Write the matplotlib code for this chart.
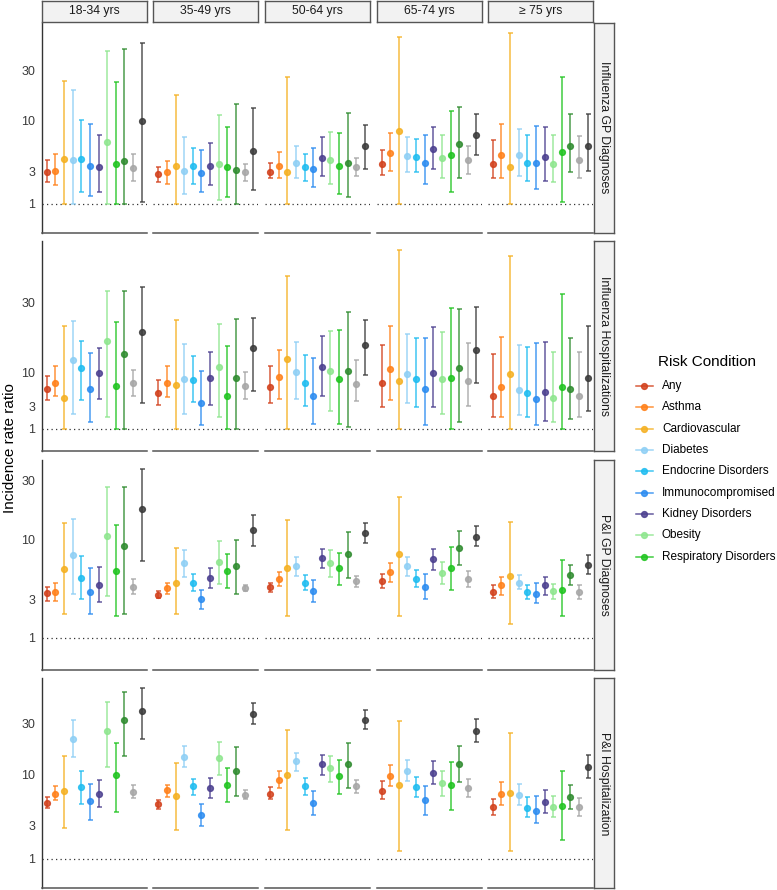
import numpy as np
import matplotlib
matplotlib.use("Agg")
import matplotlib.pyplot as plt
from matplotlib.lines import Line2D
from matplotlib.ticker import NullLocator

plt.rcParams['font.family'] = ['Liberation Sans', 'DejaVu Sans']

# ---- data -------------------------------------------------------------
age_groups = ["18-34 yrs", "35-49 yrs", "50-64 yrs", "65-74 yrs", "\u2265 75 yrs"]
outcomes = ["Influenza GP Diagnoses", "Influenza Hospitalizations",
            "P&I GP Diagnoses", "P&I Hospitalization"]
conditions = ["Any", "Asthma", "Cardiovascular", "Diabetes", "Endocrine Disorders",
              "Immunocompromised", "Kidney Disorders", "Obesity",
              "Respiratory Disorders", "Other A", "Other B", "Other C"]
legend_conditions = conditions[:9]
colors = ["#D2401C", "#FF8019", "#F5B021", "#8ECFF5", "#1EBCF0", "#2B8CF0",
          "#4B3F8F", "#8EE68E", "#1FC41F", "#2E8B2E", "#A6A6A6", "#3A3A3A"]

# influenza GP diagnoses (one list per age group, 12 conditions each)
flu_gp_est = [[2.95, 3.0, 4.1, 3.95, 4.05, 3.45, 3.35, 6.1, 3.55, 3.85, 3.25, 9.9],
              [2.75, 2.95, 3.4, 3.0, 3.4, 2.85, 3.45, 3.55, 3.3, 3.1, 2.95, 4.9],
              [2.95, 3.4, 2.95, 3.65, 3.3, 3.15, 4.15, 3.95, 3.4, 3.7, 3.3, 5.55],
              [3.6, 4.75, 7.9, 4.4, 4.3, 3.7, 5.2, 4.15, 4.5, 5.8, 3.95, 7.1],
              [3.6, 4.5, 3.35, 4.5, 3.7, 3.7, 4.3, 3.6, 4.8, 5.6, 3.95, 5.6]]
flu_gp_lo = [[2.23, 2.0, 1.0, 1.0, 1.6, 1.4, 1.6, 1.0, 1.0, 1.0, 2.3, 1.1],
             [2.23, 2.1, 1.0, 1.5, 2.1, 1.6, 2.0, 1.2, 1.35, 1.0, 2.3, 1.7],
             [2.45, 2.45, 1.0, 2.45, 2.3, 1.9, 2.6, 2.1, 1.5, 1.35, 2.6, 3.2],
             [2.7, 3.0, 1.0, 2.95, 2.95, 2.1, 3.2, 2.45, 1.6, 2.45, 2.8, 4.45],
             [2.5, 2.45, 1.0, 2.65, 2.3, 1.8, 2.3, 2.2, 1.1, 2.95, 2.5, 3.0]]
flu_gp_hi = [[3.95, 4.55, 24, 19.6, 9.95, 9.1, 7.2, 46, 23.2, 48.5, 4.55, 55],
             [3.35, 3.9, 17.5, 6.8, 5.3, 5.0, 5.9, 11.1, 8.5, 14.2, 3.6, 13.1],
             [3.7, 4.8, 26, 5.6, 4.6, 5.3, 6.8, 7.7, 7.4, 11.6, 4.15, 9.0],
             [5.1, 7.4, 63, 6.8, 6.5, 7.1, 8.6, 7.2, 12.2, 13.4, 5.6, 11.5],
             [6.35, 9.1, 68, 8.2, 7.1, 8.7, 8.6, 7.1, 26, 11.5, 6.95, 11.5]]

# influenza hospitalizations
flu_hosp_est = [[5.85, 7.1, 4.25, 15.5, 11.6, 5.8, 10.0, 28.5, 6.4, 18.8, 7.0, 38.6],
                [4.95, 7.0, 6.6, 8.2, 8.0, 3.55, 8.3, 12.2, 4.6, 8.4, 6.35, 22.8],
                [6.1, 8.6, 16.0, 10.3, 7.0, 4.6, 12.3, 10.7, 8.2, 10.7, 6.8, 25],
                [7.0, 11.4, 7.6, 9.5, 8.2, 5.7, 10.1, 8.1, 8.3, 11.7, 7.5, 21],
                [4.5, 6.3, 9.5, 5.5, 5.0, 4.1, 5.3, 4.2, 6.3, 5.75, 4.6, 8.5]]
flu_hosp_lo = [[3.9, 4.45, 1.0, 2.2, 3.85, 1.5, 4.1, 1.95, 1.0, 1.0, 4.45, 3.5],
               [3.2, 4.3, 1.0, 2.2, 3.7, 1.3, 3.2, 1.95, 1.0, 1.0, 4.1, 5.4],
               [3.45, 4.0, 1.0, 4.1, 3.1, 1.4, 4.5, 2.5, 1.4, 1.1, 3.8, 9.3],
               [3.05, 3.9, 1.0, 3.45, 3.05, 1.3, 3.05, 2.25, 1.0, 1.5, 3.1, 7.0],
               [2.0, 1.95, 1.0, 2.1, 1.95, 1.25, 1.6, 1.5, 1.0, 1.75, 2.0, 2.5]]
flu_hosp_hi = [[9.0, 12.4, 47, 56, 29, 19.2, 22.5, 148, 53, 149, 11.0, 168],
               [8.0, 12.6, 58, 25.7, 17.3, 10.7, 19.9, 50, 24.5, 59, 10.4, 62],
               [12.5, 21.5, 240, 27.7, 18.3, 16.2, 33.5, 39.5, 41, 74, 15.2, 57],
               [25, 47.5, 560, 36.5, 32, 32, 45, 38, 84, 81, 27, 88],
               [18.7, 32.5, 470, 25, 23.7, 27, 27.5, 20, 135, 31.5, 20, 46.5]]

# P&I GP diagnoses
pi_gp_est = [[3.45, 3.5, 5.65, 7.4, 4.75, 3.55, 4.1, 10.6, 5.4, 8.8, 3.9, 17.6],
             [3.3, 3.8, 4.3, 6.3, 4.3, 3.0, 4.75, 6.5, 5.4, 5.95, 3.8, 12.0],
             [3.95, 4.65, 5.7, 5.95, 4.3, 3.6, 6.95, 6.35, 5.75, 7.5, 4.4, 11.3],
             [4.45, 5.35, 7.55, 6.0, 4.65, 3.9, 6.9, 5.2, 5.7, 8.5, 4.65, 10.5],
             [3.5, 4.05, 4.95, 4.3, 3.5, 3.4, 4.05, 3.6, 3.7, 5.0, 3.5, 6.1]]
pi_gp_lo = [[2.9, 2.9, 2.1, 3.4, 3.0, 2.1, 2.8, 3.2, 2.0, 2.1, 3.35, 6.65],
            [3.1, 3.35, 2.1, 4.8, 3.6, 2.4, 3.8, 4.2, 3.8, 3.35, 3.6, 8.8],
            [3.5, 4.0, 2.0, 4.95, 3.7, 2.8, 5.7, 4.8, 4.1, 4.7, 3.9, 9.3],
            [3.8, 4.35, 2.0, 4.9, 3.9, 3.0, 5.55, 4.2, 3.7, 6.1, 3.95, 8.8],
            [3.1, 3.3, 1.6, 3.75, 3.0, 2.75, 3.3, 3.0, 2.0, 4.05, 3.05, 5.1]]
pi_gp_hi = [[3.95, 4.3, 13.5, 14.6, 7.3, 5.7, 5.9, 26.5, 13.2, 26.5, 4.65, 37.5],
            [3.6, 4.3, 8.5, 8.1, 5.15, 3.7, 5.75, 9.7, 7.55, 9.95, 4.1, 15.9],
            [4.3, 5.3, 14.3, 7.15, 5.05, 4.5, 8.3, 8.2, 7.75, 11.5, 4.95, 13.7],
            [5.1, 6.4, 22.2, 7.2, 5.5, 5.15, 8.3, 6.5, 8.6, 11.7, 5.45, 12.9],
            [4.05, 4.85, 14.0, 5.0, 4.1, 4.3, 4.8, 4.2, 6.75, 6.15, 4.1, 7.45]]

# P&I hospitalization
pi_hosp_est = [[5.25, 6.45, 6.85, 21.5, 7.55, 5.45, 6.45, 25.5, 9.8, 32.2, 6.75, 39.6],
               [5.05, 6.95, 6.2, 14.6, 7.65, 3.95, 7.3, 14.3, 7.8, 10.7, 6.3, 37.3],
               [6.45, 8.8, 9.7, 13.2, 7.65, 5.2, 12.6, 11.4, 9.55, 12.4, 7.65, 32.5],
               [6.9, 9.6, 7.85, 10.7, 7.45, 5.55, 10.3, 8.2, 7.85, 12.6, 7.4, 25.7],
               [4.8, 6.35, 6.55, 6.25, 4.65, 4.3, 5.3, 4.8, 4.9, 6.0, 4.8, 11.8]]
pi_hosp_lo = [[4.6, 5.55, 2.8, 14.4, 5.1, 3.5, 4.8, 11.8, 4.25, 14.8, 5.9, 21.3],
              [4.55, 6.05, 2.7, 11.8, 6.3, 3.0, 5.85, 9.9, 5.35, 6.1, 5.75, 29.5],
              [5.7, 7.35, 2.7, 10.6, 6.3, 3.95, 9.9, 8.45, 6.35, 7.3, 6.6, 27],
              [5.75, 7.6, 1.4, 8.55, 5.95, 3.95, 7.95, 6.2, 4.4, 8.4, 5.95, 20.2],
              [3.95, 4.95, 1.4, 4.95, 3.75, 3.25, 4.1, 3.75, 2.05, 4.55, 3.85, 9.2]]
pi_hosp_hi = [[6.0, 7.65, 14.8, 32.5, 10.7, 8.1, 8.7, 47.5, 19.9, 60, 7.8, 65],
              [5.55, 7.8, 12.8, 18.5, 9.0, 5.1, 9.2, 20.3, 11.4, 18.0, 7.1, 47],
              [7.5, 10.7, 26.3, 15.7, 9.2, 6.85, 15.3, 15.0, 13.6, 19.8, 8.8, 40.5],
              [8.5, 12.1, 31.8, 13.5, 9.3, 7.7, 13.3, 10.8, 13.0, 18.6, 9.0, 33],
              [5.75, 8.4, 24.3, 8.0, 6.05, 6.1, 7.0, 6.1, 10.7, 7.85, 5.85, 15.3]]

row_est = [flu_gp_est, flu_hosp_est, pi_gp_est, pi_hosp_est]
row_lo = [flu_gp_lo, flu_hosp_lo, pi_gp_lo, pi_hosp_lo]
row_hi = [flu_gp_hi, flu_hosp_hi, pi_gp_hi, pi_hosp_hi]

# axis breaks / labels per row (free y scales)
row_breaks = [[1, 3, 10, 30], [1, 3, 10, 100], [1, 3, 10, 30], [1, 3, 10, 30]]
tick_labels = ["1", "3", "10", "30"]
row_ylim = [(-0.31, 86.0), (-0.5, 761.0), (-0.24, 44.2), (-0.31, 80.0)]


# pseudo-log transform, like ggplot's pseudo_log_trans
def fwd(v):
    return np.arcsinh(np.asarray(v, dtype=float) / 2.0)


def inv(t):
    return 2.0 * np.sinh(np.asarray(t, dtype=float))


# ---- layout (pixels) --------------------------------------------------
W, H = 777, 890
fig = plt.figure(figsize=(W / 100, H / 100), dpi=100)

col_left = [41.7, 153.3, 265.0, 376.5, 487.7]
panel_w = 105.0
row_top = [22.5, 241.0, 460.0, 678.3]
panel_h = 210.0


def px_rect(x0, y0, w, h):
    return [x0 / W, 1 - (y0 + h) / H, w / W, h / H]


strip_fc = "#F2F2F2"
strip_ec = "#555555"
xs = np.arange(1, len(conditions) + 1)

for r in range(4):
    for c in range(5):
        ax = fig.add_axes(px_rect(col_left[c], row_top[r], panel_w, panel_h))
        ax.set_yscale('function', functions=(fwd, inv))
        ax.set_xlim(0.4, len(conditions) + 0.6)
        ax.set_ylim(*row_ylim[r])

        ax.axhline(1, color="#333333", lw=0.9, linestyle=(0, (1, 2.6)), zorder=1)

        est = row_est[r][c]
        lo = row_lo[r][c]
        hi = row_hi[r][c]
        for k in range(len(conditions)):
            ax.errorbar(xs[k], est[k],
                        yerr=[[est[k] - lo[k]], [hi[k] - est[k]]],
                        fmt='o', color=colors[k], ms=4.2,
                        elinewidth=1.1, capsize=1.8, capthick=1.1,
                        alpha=0.85, zorder=3)

        ax.set_xticks([])
        ax.yaxis.set_minor_locator(NullLocator())
        ax.set_yticks(row_breaks[r])
        ax.set_yticklabels(tick_labels)
        ax.tick_params(axis='y', length=0, pad=4.5, labelsize=9,
                       labelcolor="#3A3A3A")
        for s in ["top", "right"]:
            ax.spines[s].set_visible(False)
        ax.spines["bottom"].set_color("#555555")
        ax.spines["bottom"].set_linewidth(1.1)
        if c == 0:
            ax.spines["left"].set_color("#333333")
            ax.spines["left"].set_linewidth(1.0)
        else:
            ax.spines["left"].set_visible(False)
            ax.tick_params(axis='y', labelleft=False)
        ax.patch.set_alpha(0)

# column strips
for c in range(5):
    sax = fig.add_axes(px_rect(col_left[c], 0.8, panel_w, 20.9))
    sax.set_facecolor(strip_fc)
    sax.set_xticks([])
    sax.set_yticks([])
    for sp in sax.spines.values():
        sp.set_color(strip_ec)
        sp.set_linewidth(1.0)
    sax.text(0.5, 0.5, age_groups[c], ha='center', va='center',
             fontsize=8.8, color="#1A1A1A", transform=sax.transAxes)

# row strips
for r in range(4):
    sax = fig.add_axes(px_rect(593.7, row_top[r], 20.6, panel_h))
    sax.set_facecolor(strip_fc)
    sax.set_xticks([])
    sax.set_yticks([])
    for sp in sax.spines.values():
        sp.set_color(strip_ec)
        sp.set_linewidth(1.0)
    sax.text(0.5, 0.5, outcomes[r], ha='center', va='center', rotation=-90,
             fontsize=8.8, color="#1A1A1A", transform=sax.transAxes)

# y axis title
fig.text(10.5 / W, 1 - 448 / H, "Incidence rate ratio", rotation=90,
         ha='center', va='center', fontsize=11, color="black")

# legend
lax = fig.add_axes([0, 0, 1, 1])
lax.set_xlim(0, W)
lax.set_ylim(H, 0)
lax.axis('off')
lax.text(658, 362.5, "Risk Condition", ha='left', va='center', fontsize=11)
for i, name in enumerate(legend_conditions):
    yy = 386 + i * 21.35
    lax.add_line(Line2D([636, 652.7], [yy, yy], color=colors[i], lw=1.1, alpha=0.85))
    lax.plot([644.3], [yy], 'o', color=colors[i], ms=4.2, alpha=0.85)
    lax.text(662, yy, name, ha='left', va='center', fontsize=8.5)

fig.savefig("out.png", dpi=100)
